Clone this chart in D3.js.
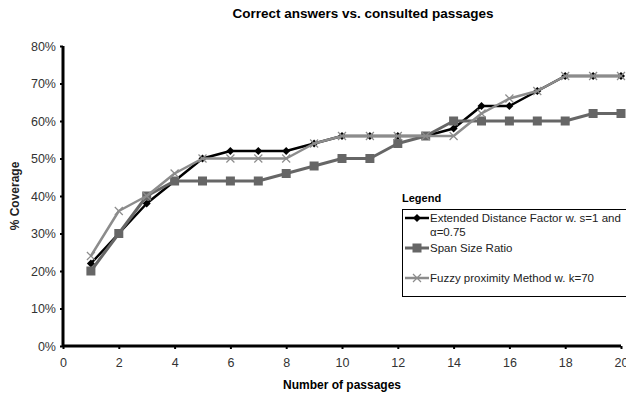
<!DOCTYPE html>
<html>
<head>
<meta charset="utf-8">
<script src="https://cdn.jsdelivr.net/npm/d3@7"></script>
<style>
  body { margin: 0; background: #fff; }
  svg text { font-family: "Liberation Sans", Arial, sans-serif; }
</style>
</head>
<body>
<svg id="chart" width="626" height="399"></svg>
<script>
// data
const passages = d3.range(1, 21);
const extended = [22, 30, 38, 44, 50, 52, 52, 52, 54, 56, 56, 56, 56, 58, 64, 64, 68, 72, 72, 72];
const spanSize = [20, 30, 40, 44, 44, 44, 44, 46, 48, 50, 50, 54, 56, 60, 60, 60, 60, 60, 62, 62];
const fuzzy = [24, 36, 40, 46, 50, 50, 50, 50, 54, 56, 56, 56, 56, 56, 62, 66, 68, 72, 72, 72];
const seriesNames = ["Extended Distance Factor w. s=1 and\nα=0.75", "Span Size Ratio", "Fuzzy proximity Method w. k=70"];
const xTicks = [0, 2, 4, 6, 8, 10, 12, 14, 16, 18, 20];
const yTicks = [0, 10, 20, 30, 40, 50, 60, 70, 80];

const series = [
    { name: seriesNames[0], values: extended, color: "#000", width: 2.5, marker: "diamond" },
    { name: seriesNames[1], values: spanSize, color: "#666", width: 3, marker: "square" },
    { name: seriesNames[2], values: fuzzy, color: "#8c8c8c", width: 2.5, marker: "cross" }
];

let svg = d3.select("#chart");
let margin = { left: 63, right: 5, top: 46, bottom: 53 };
let width = +svg.attr("width");
let height = +svg.attr("height");

let xScale = d3.scaleLinear()
    .domain([0, 20])
    .range([margin.left, width - margin.right]);

let yScale = d3.scaleLinear()
    .domain([0, 80])
    .range([height - margin.bottom, margin.top]);

// title
svg.append("text")
    .attr("x", 363)
    .attr("y", 18)
    .attr("text-anchor", "middle")
    .style("font-size", "13.5px")
    .style("font-weight", "bold")
    .text("Correct answers vs. consulted passages");

// axes
let xAxis = d3.axisBottom(xScale).tickValues(xTicks).tickSize(3).tickPadding(9);
let yAxis = d3.axisLeft(yScale).tickValues(yTicks).tickSize(3).tickPadding(4)
    .tickFormat(d => d + "%");

let gx = svg.append("g")
    .attr("class", "x-axis")
    .attr("transform", `translate(0, ${yScale(0)})`)
    .call(xAxis);

let gy = svg.append("g")
    .attr("class", "y-axis")
    .attr("transform", `translate(${margin.left}, 0)`)
    .call(yAxis);

[gx, gy].forEach(g => {
    g.select(".domain").attr("stroke", "#000").attr("stroke-width", 3);
    g.selectAll(".tick line").attr("stroke", "#000").attr("stroke-width", 2);
    g.selectAll(".tick text").attr("fill", "#333").style("font-size", "12.5px")
        .style("font-family", "Liberation Sans, Arial, sans-serif");
});
gy.select(".domain").attr("d", `M0,${yScale(80)}V${yScale(0)}`);
gx.select(".domain").attr("d", `M${xScale(0)},0H${xScale(20)}`);

// axis titles
svg.append("text")
    .attr("x", 342)
    .attr("y", 389)
    .attr("text-anchor", "middle")
    .style("font-size", "12px")
    .style("font-weight", "bold")
    .text("Number of passages");

svg.append("text")
    .attr("transform", `translate(19, ${yScale(40)}) rotate(-90)`)
    .attr("text-anchor", "middle")
    .style("font-size", "12px")
    .style("font-weight", "bold")
    .attr("fill", "#222")
    .text("% Coverage");

// markers
function drawMarker(g, type, color, x, y) {
    if (type == "diamond") {
        g.append("path")
            .attr("d", `M${x},${y - 4}L${x + 4},${y}L${x},${y + 4}L${x - 4},${y}Z`)
            .attr("fill", color);
    } else if (type == "square") {
        g.append("rect")
            .attr("x", x - 4.5).attr("y", y - 4.5)
            .attr("width", 9).attr("height", 9)
            .attr("fill", color);
    } else {
        g.append("path")
            .attr("d", `M${x - 4},${y - 4}L${x + 4},${y + 4}M${x - 4},${y + 4}L${x + 4},${y - 4}`)
            .attr("stroke", color)
            .attr("stroke-width", 1.2);
    }
}

let line = d3.line()
    .x((v, i) => xScale(passages[i]))
    .y(v => yScale(v));

series.forEach(s => {
    let g = svg.append("g").attr("class", "series");
    g.append("path")
        .attr("d", line(s.values))
        .attr("fill", "none")
        .attr("stroke", s.color)
        .attr("stroke-width", s.width)
        .attr("stroke-linejoin", "round");
    s.values.forEach((v, i) => drawMarker(g, s.marker, s.color, xScale(passages[i]), yScale(v)));
});

// legend
let legend = svg.append("g").attr("class", "legend");
legend.append("text")
    .attr("x", 402)
    .attr("y", 202)
    .style("font-size", "11px")
    .style("font-weight", "bold")
    .text("Legend");

legend.append("rect")
    .attr("x", 402.5).attr("y", 209.5)
    .attr("width", 230).attr("height", 87)
    .attr("fill", "#fff")
    .attr("stroke", "#000");

let legendRows = [218, 248, 278];
series.forEach((s, i) => {
    let y = legendRows[i];
    legend.append("line")
        .attr("x1", 405).attr("x2", 429)
        .attr("y1", y).attr("y2", y)
        .attr("stroke", s.color)
        .attr("stroke-width", s.width);
    drawMarker(legend, s.marker, s.color, 417, y);
    let t = legend.append("text")
        .attr("x", 430)
        .attr("y", y + 4)
        .style("font-size", "11.5px")
        .attr("fill", "#222");
    s.name.split("\n").forEach((part, j) => {
        t.append("tspan").attr("x", 430).attr("dy", j == 0 ? 0 : 14).text(part);
    });
});
</script>
</body>
</html>
